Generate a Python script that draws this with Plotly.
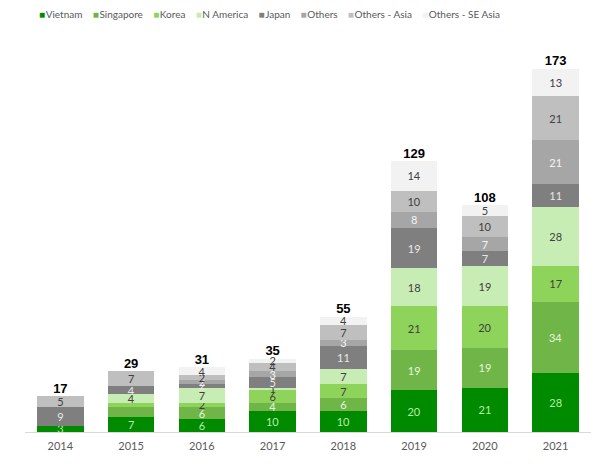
import plotly.graph_objects as go

years = ["2014", "2015", "2016", "2017", "2018", "2019", "2020", "2021"]

vietnam = [3, 7, 6, 10, 10, 20, 21, 28]
singapore = [0, 5, 6, 4, 6, 19, 19, 34]
korea = [0, 2, 2, 6, 7, 21, 20, 17]
n_america = [0, 4, 7, 1, 7, 18, 19, 28]
japan = [9, 4, 2, 5, 11, 19, 7, 11]
others = [0, 0, 2, 3, 3, 8, 7, 21]
others_asia = [5, 7, 2, 4, 7, 10, 10, 21]
others_se_asia = [0, 0, 4, 2, 4, 14, 5, 13]

# segments that carry no value label in the original
unlabeled = {("Singapore", "2015"), ("Korea", "2015")}

series = [
    ("Vietnam", vietnam, "#008a00", "#b4f0a8"),
    ("Singapore", singapore, "#6fb548", "#e6f7dc"),
    ("Korea", korea, "#8fd45a", "#404040"),
    ("N America", n_america, "#c8edb4", "#404040"),
    ("Japan", japan, "#7f7f7f", "#e8e8e8"),
    ("Others", others, "#a6a6a6", "#f4f4f4"),
    ("Others - Asia", others_asia, "#bfbfbf", "#404040"),
    ("Others - SE Asia", others_se_asia, "#f2f2f2", "#404040"),
]

fig = go.Figure()

for name, vals, color, txt_color in series:
    labels = []
    for y, v in zip(years, vals):
        if v == 0 or (name, y) in unlabeled:
            labels.append("")
        else:
            labels.append(str(v))
    fig.add_trace(go.Bar(
        x=years,
        y=vals,
        name=name,
        marker=dict(color=color, line=dict(width=0)),
        text=labels,
        texttemplate="%{text}",
        textposition="inside",
        insidetextanchor="middle",
        textangle=0,
        constraintext="none",
        textfont=dict(size=11, color=txt_color, family="Lato, sans-serif"),
        hoverinfo="x+y+name",
        showlegend=False,
    ))

# totals above each bar
totals = [sum(s[1][i] for s in series) for i in range(len(years))]
fig.add_trace(go.Scatter(
    x=years, y=totals, mode="text",
    text=["<b>%d</b>" % t for t in totals],
    textposition="top center",
    textfont=dict(size=13, color="#000000", family="Liberation Sans, Arial, sans-serif"),
    cliponaxis=False, showlegend=False, hoverinfo="skip",
))

# compact one-line legend, built as text like the original
legend_parts = []
for name, vals, color, txt_color in series:
    legend_parts.append("<span style='color:%s'>■</span>&#8202;%s" % (color, name))
legend_text = "&nbsp;&nbsp;&nbsp;&nbsp;".join(legend_parts)
fig.add_annotation(
    xref="paper", yref="paper", x=0.432, y=1.0, yshift=48,
    xanchor="center", yanchor="top", showarrow=False,
    text=legend_text,
    font=dict(size=10, color="#595959", family="Lato, sans-serif"),
)

# the page puts the figure 8px in from the top-left corner, margins allow for it
fig.update_layout(
    barmode="stack",
    bargap=0.34,
    width=600,
    height=467,
    margin=dict(l=17, r=17, t=46, b=43),
    plot_bgcolor="white",
    paper_bgcolor="white",
    showlegend=False,
    xaxis=dict(
        type="category",
        showline=True, linecolor="#d9d9d9", linewidth=1,
        ticks="", ticklabelstandoff=4,
        tickfont=dict(size=11, color="#595959", family="Lato, sans-serif"),
        showgrid=False,
    ),
    yaxis=dict(visible=False, range=[0, 180], showgrid=False),
)

fig.write_html("out.html")
